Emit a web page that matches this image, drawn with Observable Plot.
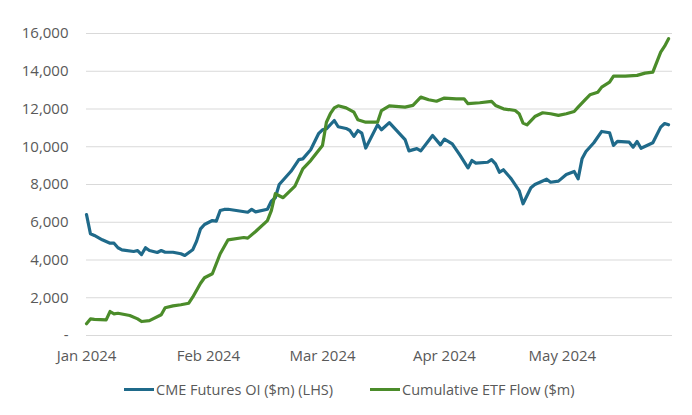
<!DOCTYPE html>
<html>
<head>
<meta charset="utf-8">
<script src="https://cdn.jsdelivr.net/npm/d3@7"></script>
<script src="https://cdn.jsdelivr.net/npm/@observablehq/plot@0.6"></script>
<style>
  body { margin: 0; background: #fff; font-family: "Open Sans", sans-serif; }
  #wrap { position: relative; width: 692px; height: 415px; }
  .legend { position: absolute; top: 380px; left: 0; width: 692px; height: 20px; font-size: 14.5px; color: #595959; }
  .item { position: absolute; display: flex; align-items: center; white-space: nowrap; }
  .sw { width: 30px; height: 3px; margin-right: 2px; }
</style>
</head>
<body>
<div id="wrap">
  <div id="chart"></div>
  <div class="legend">
    <div class="item" style="left:124px"><span class="sw" style="background:#1f6a8a"></span><span>CME Futures OI ($m) (LHS)</span></div>
    <div class="item" style="left:370px"><span class="sw" style="background:#4b8c2a"></span><span>Cumulative ETF Flow ($m)</span></div>
  </div>
</div>
<script>
const seriesNames = ["CME Futures OI ($m) (LHS)", "Cumulative ETF Flow ($m)"];
const seriesColors = ["#1f6a8a", "#4b8c2a"];

const cmeDates = ["2024-01-01","2024-01-02","2024-01-03","2024-01-05","2024-01-07","2024-01-08","2024-01-09","2024-01-10","2024-01-13","2024-01-14","2024-01-15","2024-01-16","2024-01-17","2024-01-19","2024-01-20","2024-01-21","2024-01-23","2024-01-25","2024-01-26","2024-01-28","2024-01-29","2024-01-30","2024-01-31","2024-02-02","2024-02-03","2024-02-04","2024-02-05","2024-02-06","2024-02-11","2024-02-12","2024-02-13","2024-02-16","2024-02-17","2024-02-18","2024-02-19","2024-02-22","2024-02-24","2024-02-25","2024-02-27","2024-02-29","2024-03-01","2024-03-02","2024-03-04","2024-03-05","2024-03-07","2024-03-08","2024-03-09","2024-03-10","2024-03-11","2024-03-12","2024-03-15","2024-03-16","2024-03-18","2024-03-22","2024-03-23","2024-03-25","2024-03-26","2024-03-29","2024-03-31","2024-04-01","2024-04-03","2024-04-05","2024-04-07","2024-04-08","2024-04-09","2024-04-12","2024-04-13","2024-04-14","2024-04-15","2024-04-16","2024-04-18","2024-04-20","2024-04-21","2024-04-23","2024-04-24","2024-04-27","2024-04-28","2024-04-30","2024-05-02","2024-05-04","2024-05-05","2024-05-06","2024-05-07","2024-05-09","2024-05-11","2024-05-13","2024-05-14","2024-05-15","2024-05-18","2024-05-19","2024-05-20","2024-05-21","2024-05-24","2024-05-26","2024-05-27","2024-05-28"];
const cmeValues = [6410,5390,5300,5070,4890,4890,4650,4540,4450,4500,4290,4650,4500,4400,4500,4410,4410,4330,4240,4540,5000,5650,5880,6090,6060,6620,6680,6690,6530,6680,6550,6690,7120,7300,8000,8700,9320,9360,9840,10690,10900,10950,11390,11060,10970,10860,10550,10860,10720,9930,11160,10900,11280,10380,9780,9900,9780,10600,10100,10400,10150,9540,8880,9270,9130,9180,9320,9090,8650,8780,8300,7680,6980,7830,8000,8280,8120,8180,8530,8690,8300,9360,9750,10210,10810,10740,10070,10280,10240,9980,10280,9920,10210,11040,11230,11160];

const etfDates = ["2024-01-01","2024-01-02","2024-01-03","2024-01-06","2024-01-07","2024-01-08","2024-01-09","2024-01-12","2024-01-14","2024-01-15","2024-01-17","2024-01-20","2024-01-21","2024-01-23","2024-01-25","2024-01-27","2024-01-28","2024-01-30","2024-01-31","2024-02-02","2024-02-04","2024-02-06","2024-02-10","2024-02-11","2024-02-13","2024-02-16","2024-02-17","2024-02-18","2024-02-20","2024-02-23","2024-02-25","2024-02-27","2024-03-01","2024-03-02","2024-03-03","2024-03-04","2024-03-05","2024-03-07","2024-03-09","2024-03-10","2024-03-12","2024-03-15","2024-03-16","2024-03-18","2024-03-22","2024-03-24","2024-03-26","2024-03-28","2024-03-30","2024-04-01","2024-04-04","2024-04-06","2024-04-07","2024-04-10","2024-04-13","2024-04-14","2024-04-16","2024-04-19","2024-04-20","2024-04-21","2024-04-22","2024-04-24","2024-04-26","2024-04-28","2024-04-30","2024-05-02","2024-05-04","2024-05-05","2024-05-07","2024-05-08","2024-05-10","2024-05-11","2024-05-13","2024-05-14","2024-05-17","2024-05-20","2024-05-22","2024-05-24","2024-05-26","2024-05-27","2024-05-28"];
const etfValues = [620,880,850,830,1270,1150,1180,1060,880,740,790,1100,1470,1570,1630,1710,2030,2770,3060,3270,4330,5070,5190,5160,5510,6090,6620,7510,7300,7910,8830,9270,10070,11300,11750,12060,12170,12060,11830,11430,11300,11300,11920,12170,12100,12190,12630,12490,12410,12580,12540,12540,12280,12330,12400,12190,12010,11920,11750,11250,11160,11600,11800,11750,11660,11750,11870,12100,12540,12750,12890,13160,13420,13740,13740,13780,13900,13950,15010,15330,15720];

const yTicks = [0, 2000, 4000, 6000, 8000, 10000, 12000, 14000, 16000];
const xTicks = ["2024-01-01", "2024-02-01", "2024-03-01", "2024-04-01", "2024-05-01"];

const parse = s => new Date(s + "T00:00:00Z");
const rows = [
  ...cmeDates.map((d, i) => ({date: parse(d), value: cmeValues[i], series: seriesNames[0]})),
  ...etfDates.map((d, i) => ({date: parse(d), value: etfValues[i], series: seriesNames[1]}))
];

const chart = Plot.plot({
  width: 692,
  height: 372,
  marginTop: 33,
  marginBottom: 37,
  marginLeft: 86,
  marginRight: 20,
  style: {fontFamily: "Open Sans, sans-serif", fontSize: "15px", color: "#595959", background: "#fff"},
  x: {type: "utc", domain: [parse("2024-01-01"), parse("2024-05-29")]},
  y: {domain: [0, 16000]},
  color: {domain: seriesNames, range: seriesColors},
  marks: [
    Plot.gridY(yTicks, {stroke: "#d9d9d9", strokeOpacity: 1, strokeWidth: 1.2}),
    Plot.axisY(yTicks, {tickSize: 0, tickPadding: 18, label: null, fill: "#595959",
      tickFormat: d => d === 0 ? "-" : d3.format(",")(d)}),
    Plot.axisX(xTicks.map(parse), {tickSize: 0, tickPadding: 15, label: null, fill: "#595959",
      tickFormat: d3.utcFormat("%b %Y")}),
    Plot.line(rows, {x: "date", y: "value", z: "series", stroke: "series",
      strokeWidth: 3.2, strokeLinejoin: "round", strokeLinecap: "round"})
  ]
});
document.getElementById("chart").appendChild(chart);
</script>
</body>
</html>
